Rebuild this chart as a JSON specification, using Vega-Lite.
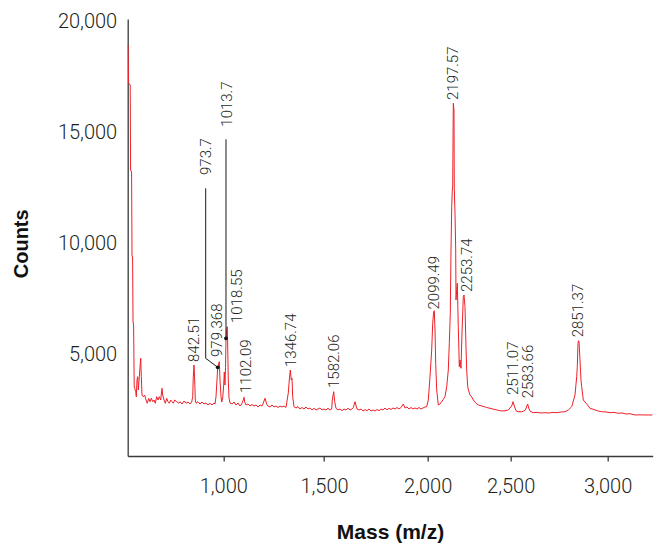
{
  "$schema": "https://vega.github.io/schema/vega-lite/v6.json",
  "autosize": {"type": "none"},
  "padding": {"left": 127.7, "top": 19, "right": 2.3, "bottom": 87},
  "width": 525,
  "height": 437,
  "background": "white",
  "config": {
    "view": {"stroke": null},
    "axis": {"grid": false, "domainColor": "#3a3a3a", "domainWidth": 1.3, "tickColor": "#3a3a3a", "tickWidth": 1.3, "labelColor": "#231f20", "labelFont": "Roboto", "labelFontWeight": 300, "labelFontSize": 20, "titleColor": "#111111", "titleFont": "Liberation Sans", "titleFontWeight": "bold"}
  },
  "datasets": {
    "spectrum": [
      {"mass":526.8,"counts":18950},{"mass":529.8,"counts":17236},{"mass":537.8,"counts":17145},{"mass":539.7,"counts":13312},{"mass":544.7,"counts":13222},{"mass":546.7,"counts":9478},{"mass":549.7,"counts":9343},{"mass":551.7,"counts":6457},{"mass":554.6,"counts":6321},{"mass":557.6,"counts":3539},{"mass":560.1,"counts":3467},{"mass":565.1,"counts":3313},{"mass":568.0,"counts":3088},{"mass":571.5,"counts":3841},{"mass":575.0,"counts":3990},{"mass":578.0,"counts":3390},{"mass":582.9,"counts":3990},{"mass":589.9,"counts":4820},{"mass":592.9,"counts":3990},{"mass":596.3,"counts":3164},{"mass":602.8,"counts":3088},{"mass":609.8,"counts":3164},{"mass":616.2,"counts":2939},{"mass":622.7,"counts":2790},{"mass":629.6,"counts":3016},{"mass":636.1,"counts":2862},{"mass":642.5,"counts":3016},{"mass":649.5,"counts":2862},{"mass":655.9,"counts":2939},{"mass":662.4,"counts":2790},{"mass":669.3,"counts":3088},{"mass":675.8,"counts":2939},{"mass":682.2,"counts":3088},{"mass":689.2,"counts":2939},{"mass":695.6,"counts":3467},{"mass":699.1,"counts":3164},{"mass":705.6,"counts":2939},{"mass":712.0,"counts":2790},{"mass":719.0,"counts":3016},{"mass":725.4,"counts":2862},{"mass":731.9,"counts":2790},{"mass":738.8,"counts":2939},{"mass":745.3,"counts":2862},{"mass":751.7,"counts":2790},{"mass":758.7,"counts":2939},{"mass":768.6,"counts":2862},{"mass":778.5,"counts":2790},
      {"mass":785.0,"counts":2862},{"mass":794.9,"counts":2759},{"mass":805.0,"counts":2894},{"mass":814.9,"counts":2790},{"mass":824.8,"counts":2849},{"mass":834.7,"counts":2759},{"mass":843.1,"counts":2849},{"mass":848.1,"counts":3088},{"mass":851.0,"counts":3990},{"mass":854.5,"counts":4517},{"mass":858.0,"counts":3841},{"mass":861.0,"counts":2939},{"mass":864.5,"counts":2790},{"mass":874.4,"counts":2862},{"mass":884.3,"counts":2759},{"mass":894.2,"counts":2849},{"mass":904.2,"counts":2759},{"mass":914.1,"counts":2804},{"mass":924.0,"counts":2713},{"mass":933.9,"counts":2790},{"mass":943.9,"counts":2713},{"mass":953.8,"counts":2804},{"mass":958.8,"counts":2759},
      {"mass":963.8,"counts":3088},{"mass":968.7,"counts":3841},{"mass":972.2,"counts":4414},{"mass":977.2,"counts":4562},{"mass":980.1,"counts":4666},{"mass":983.6,"counts":3841},{"mass":988.6,"counts":3088},{"mass":992.1,"counts":2849},{"mass":997.0,"counts":3029},{"mass":1002.0,"counts":3615},{"mass":1005.0,"counts":4202},{"mass":1008.4,"counts":3615},{"mass":1011.0,"counts":4400},{"mass":1013.4,"counts":5722},{"mass":1016.5,"counts":6100},{"mass":1019.9,"counts":6245},{"mass":1022.5,"counts":5000},{"mass":1024.8,"counts":3841},{"mass":1028.3,"counts":3029},{"mass":1033.3,"counts":2804},
      {"mass":1043.2,"counts":2759},{"mass":1053.1,"counts":2849},{"mass":1063.1,"counts":2713},{"mass":1073.0,"counts":2804},{"mass":1082.9,"counts":2668},{"mass":1091.4,"counts":2759},{"mass":1099.3,"counts":2939},{"mass":1102.8,"counts":3061},{"mass":1106.3,"counts":2849},{"mass":1112.7,"counts":2713},{"mass":1122.6,"counts":2759},{"mass":1132.6,"counts":2668},{"mass":1142.5,"counts":2737},{"mass":1152.4,"counts":2668},{"mass":1162.4,"counts":2713},{"mass":1172.3,"counts":2623},{"mass":1182.2,"counts":2713},{"mass":1192.1,"counts":2668},{"mass":1198.6,"counts":2804},{"mass":1207.0,"counts":3016},{"mass":1215.5,"counts":2759},{"mass":1221.9,"counts":2668},{"mass":1231.9,"counts":2623},{"mass":1241.8,"counts":2713},{"mass":1251.7,"counts":2623},{"mass":1261.7,"counts":2668},{"mass":1271.6,"counts":2601},{"mass":1281.5,"counts":2668},{"mass":1291.4,"counts":2623},{"mass":1301.4,"counts":2668},{"mass":1311.3,"counts":2601},{"mass":1322.7,"counts":3255},{"mass":1327.7,"counts":3841},{"mass":1332.7,"counts":4292},{"mass":1337.6,"counts":3841},{"mass":1341.1,"counts":3918},{"mass":1344.6,"counts":3088},{"mass":1351.0,"counts":2637},{"mass":1361.0,"counts":2578},{"mass":1370.9,"counts":2637},{"mass":1380.8,"counts":2533},{"mass":1390.8,"counts":2601},{"mass":1400.7,"counts":2533},{"mass":1410.6,"counts":2623},{"mass":1420.5,"counts":2533},{"mass":1430.5,"counts":2578},{"mass":1440.4,"counts":2488},{"mass":1450.3,"counts":2564},{"mass":1460.3,"counts":2488},{"mass":1470.2,"counts":2533},{"mass":1480.1,"counts":2578},{"mass":1490.1,"counts":2488},{"mass":1500,"counts":2533},{"mass":1509.6,"counts":2488},{"mass":1519.3,"counts":2564},{"mass":1528.9,"counts":2488},{"mass":1537.1,"counts":2533},{"mass":1540.0,"counts":2939},{"mass":1546.8,"counts":3313},{"mass":1551.6,"counts":2862},{"mass":1557.9,"counts":2564},{"mass":1567.5,"counts":2488},{"mass":1577.2,"counts":2533},{"mass":1586.8,"counts":2456},{"mass":1596.4,"counts":2533},{"mass":1606.1,"counts":2488},{"mass":1615.7,"counts":2564},{"mass":1625.4,"counts":2488},{"mass":1635.0,"counts":2533},{"mass":1641.3,"counts":2601},{"mass":1649.5,"counts":2862},{"mass":1659.1,"counts":2533},{"mass":1668.8,"counts":2488},{"mass":1678.4,"counts":2533},{"mass":1688.1,"counts":2443},{"mass":1697.7,"counts":2510},{"mass":1707.3,"counts":2456},{"mass":1717.0,"counts":2533},{"mass":1726.6,"counts":2443},{"mass":1736.3,"counts":2488},{"mass":1745.9,"counts":2443},{"mass":1755.5,"counts":2510},{"mass":1765.2,"counts":2456},{"mass":1774.9,"counts":2533},{"mass":1784.5,"counts":2488},{"mass":1794.1,"counts":2578},{"mass":1803.8,"counts":2488},{"mass":1813.4,"counts":2564},{"mass":1823.1,"counts":2510},{"mass":1832.7,"counts":2578},{"mass":1842.4,"counts":2533},{"mass":1852.0,"counts":2601},{"mass":1861.7,"counts":2533},{"mass":1871.3,"counts":2601},{"mass":1882.4,"counts":2759},{"mass":1890.6,"counts":2578},{"mass":1900.3,"counts":2623},{"mass":1909.9,"counts":2533},{"mass":1919.5,"counts":2601},{"mass":1929.2,"counts":2533},{"mass":1938.8,"counts":2578},{"mass":1948.5,"counts":2533},{"mass":1958.1,"counts":2601},{"mass":1967.7,"counts":2533},{"mass":1977.4,"counts":2578},{"mass":1987.0,"counts":2623},{"mass":1995.2,"counts":2637},
      {"mass":2003.6,"counts":2939},{"mass":2013.9,"counts":3990},{"mass":2024.1,"counts":5194},{"mass":2030.1,"counts":6398},{"mass":2036.1,"counts":6921},{"mass":2039.8,"counts":6966},{"mass":2044.0,"counts":6096},{"mass":2048.2,"counts":4594},{"mass":2054.2,"counts":3390},{"mass":2063.9,"counts":2713},{"mass":2074.1,"counts":2759},{"mass":2084.3,"counts":2862},{"mass":2094.0,"counts":2970},{"mass":2104.2,"counts":3088},{"mass":2114.5,"counts":3539},{"mass":2124.1,"counts":4292},{"mass":2130.1,"counts":5496},{"mass":2136.2,"counts":6849},{"mass":2140.4,"counts":9704},{"mass":2144.6,"counts":11657},{"mass":2148.2,"counts":12410},{"mass":2150.6,"counts":12559},{"mass":2154.2,"counts":16320},{"mass":2158.4,"counts":16018},{"mass":2160.2,"counts":12487},{"mass":2164.5,"counts":11359},{"mass":2168.7,"counts":9704},{"mass":2170.5,"counts":7449},{"mass":2174.7,"counts":7900},{"mass":2178.3,"counts":8202},{"mass":2184.3,"counts":6245},{"mass":2190.4,"counts":4441},{"mass":2194.6,"counts":4743},{"mass":2200.6,"counts":4369},{"mass":2206.6,"counts":5961},{"mass":2214.5,"counts":7598},{"mass":2218.7,"counts":7674},{"mass":2224.7,"counts":7147},{"mass":2230.7,"counts":5343},{"mass":2234.9,"counts":4292},{"mass":2241.0,"counts":3539},{"mass":2248.8,"counts":3300},{"mass":2254.8,"counts":3164},{"mass":2265.1,"counts":3074},{"mass":2274.7,"counts":2939},{"mass":2291.0,"counts":2790},{"mass":2304.8,"counts":2713},{"mass":2327.1,"counts":2668},{"mass":2355.4,"counts":2601},{"mass":2375.3,"counts":2564},{"mass":2399.4,"counts":2519},{"mass":2417.5,"counts":2488},{"mass":2435.5,"counts":2456},{"mass":2453.6,"counts":2443},{"mass":2471.7,"counts":2456},{"mass":2485.5,"counts":2488},{"mass":2495.8,"counts":2578},{"mass":2505.2,"counts":2668},{"mass":2511.9,"counts":2862},{"mass":2518.6,"counts":2668},{"mass":2527.3,"counts":2456},{"mass":2537.6,"counts":2411},{"mass":2556.7,"counts":2411},{"mass":2568.6,"counts":2443},{"mass":2576.3,"counts":2488},{"mass":2583.0,"counts":2668},{"mass":2587.6,"counts":2759},{"mass":2592.8,"counts":2578},{"mass":2599.5,"counts":2443},{"mass":2615.0,"counts":2366},{"mass":2635.6,"counts":2380},{"mass":2656.2,"counts":2353},{"mass":2676.8,"counts":2366},{"mass":2697.4,"counts":2353},{"mass":2718.1,"counts":2380},{"mass":2738.7,"counts":2366},{"mass":2759.3,"counts":2398},{"mass":2779.9,"counts":2411},{"mass":2796.9,"counts":2488},{"mass":2814.5,"counts":2637},{"mass":2831.5,"counts":3164},{"mass":2840.2,"counts":3990},{"mass":2843.3,"counts":4441},{"mass":2846.9,"counts":5496},{"mass":2849.5,"counts":5613},{"mass":2852.1,"counts":5568},{"mass":2857.2,"counts":4743},{"mass":2862.3,"counts":3841},{"mass":2865.9,"counts":3539},{"mass":2871.2,"counts":3164},{"mass":2874.2,"counts":2939},{"mass":2891.8,"counts":2759},{"mass":2908.8,"counts":2564},{"mass":2929.4,"counts":2510},{"mass":2950.0,"counts":2443},{"mass":2969.1,"counts":2411},{"mass":2991.3,"counts":2398},{"mass":3011.9,"counts":2366},{"mass":3032.5,"counts":2380},{"mass":3054.7,"counts":2339},{"mass":3073.8,"counts":2353},{"mass":3094.4,"counts":2308},{"mass":3115.0,"counts":2320},{"mass":3140.8,"counts":2263},{"mass":3166.5,"counts":2270},{"mass":3192.3,"counts":2263},{"mass":3230.9,"counts":2263}
    ],
    "leaders": [
      {"id":"973.7","seq":1,"mass":912.6,"counts":12487},
      {"id":"973.7","seq":2,"mass":912.6,"counts":4820},
      {"id":"973.7","seq":3,"mass":972.2,"counts":4414},
      {"id":"1013.7","seq":1,"mass":1013.4,"counts":14697},
      {"id":"1013.7","seq":2,"mass":1013.4,"counts":5722}
    ],
    "dots": [
      {"mass":972.2,"counts":4414},
      {"mass":1013.4,"counts":5722}
    ],
    "labels": [
      {"label":"842.51","mass":854.5,"counts":4653},
      {"label":"979.368","mass":967.2,"counts":4878},
      {"label":"973.7","mass":912.6,"counts":13086},
      {"label":"1013.7","mass":1019.9,"counts":15265},
      {"label":"1018.55","mass":1069.5,"counts":6412},
      {"label":"1102.09","mass":1112.7,"counts":3255},
      {"label":"1346.74","mass":1334.6,"counts":4427},
      {"label":"1582.06","mass":1549.7,"counts":3480},
      {"label":"2099.49","mass":2036.7,"counts":7020},
      {"label":"2197.57","mass":2154.2,"counts":16469},
      {"label":"2253.74","mass":2234.9,"counts":7810},
      {"label":"2511.07","mass":2510.3,"counts":3164},
      {"label":"2583.66","mass":2590.7,"counts":3016},
      {"label":"2851.37","mass":2848.5,"counts":5767}
    ]
  },
  "encoding": {
    "x": {
      "field": "mass", "type": "quantitative",
      "scale": {"domain": [525.3, 1000, 1500, 2000, 2500, 3000, 3232], "range": [0, 95.6, 196.3, 300, 383, 480, 525], "nice": false, "zero": false},
      "axis": {"title": "Mass (m/z)", "values": [1000, 1500, 2000, 2500, 3000], "format": ",d", "tickSize": 5, "labelPadding": 15, "titleFontSize": 21, "titleX": 262.3, "titleY": 65.5, "titleBaseline": "top", "titleAlign": "center", "labelFlush": false}
    },
    "y": {
      "field": "counts", "type": "quantitative",
      "scale": {"domain": [413, 20122], "nice": false, "zero": false},
      "axis": {"title": "Counts", "values": [5000, 10000, 15000, 20000], "format": ",d", "ticks": false, "tickSize": 0, "labelPadding": 11, "titleFontSize": 20, "titleAngle": 270, "titleX": -106.5, "titleY": 224.3, "titleBaseline": "middle", "titleAlign": "center", "labelFlush": false}
    }
  },
  "layer": [
    {
      "data": {"name": "spectrum"},
      "mark": {"type": "line", "color": "#ee2028", "strokeWidth": 1, "clip": true}
    },
    {
      "data": {"name": "leaders"},
      "mark": {"type": "line", "color": "#1a1a1a", "strokeWidth": 1},
      "encoding": {"detail": {"field": "id"}, "order": {"field": "seq", "type": "quantitative"}}
    },
    {
      "data": {"name": "dots"},
      "mark": {"type": "point", "filled": true, "color": "#111111", "size": 14, "opacity": 1}
    },
    {
      "data": {"name": "labels"},
      "mark": {"type": "text", "angle": 270, "align": "left", "baseline": "middle", "font": "Roboto", "fontWeight": 300, "fontSize": 15, "color": "#231f20"},
      "encoding": {"text": {"field": "label"}}
    }
  ]
}
